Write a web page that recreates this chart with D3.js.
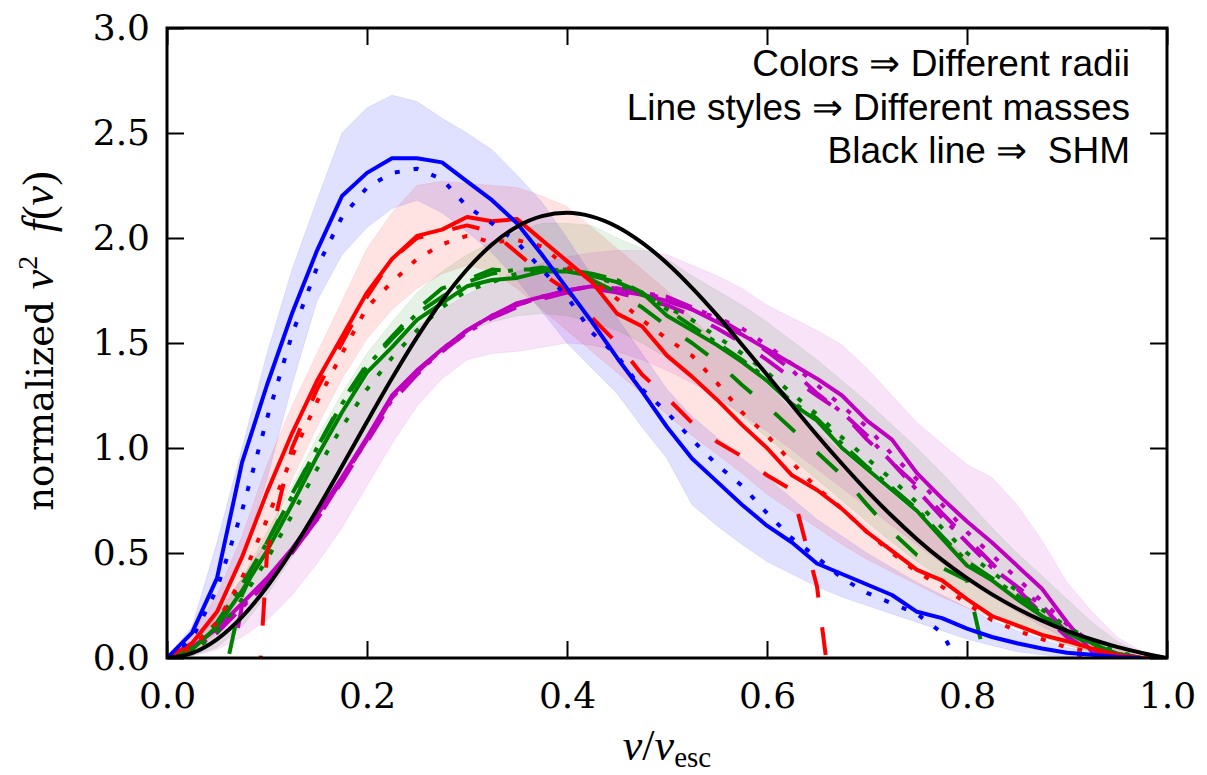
<!DOCTYPE html>
<html>
<head>
<meta charset="utf-8">
<script src="https://cdnjs.cloudflare.com/ajax/libs/d3/7.8.5/d3.min.js"></script>
<style>
  body { margin: 0; background: #fff; }
</style>
</head>
<body>
<div id="chart"></div>
<script>
// speed grid (v / v_esc) shared by every curve and band
var vGrid = [0, 0.025, 0.05, 0.075, 0.1, 0.125, 0.15, 0.175, 0.2, 0.225, 0.25, 0.275, 0.3, 0.325, 0.35, 0.375,
    0.4, 0.425, 0.45, 0.475, 0.5, 0.525, 0.55, 0.575, 0.6, 0.625, 0.65, 0.675, 0.7, 0.725, 0.75, 0.775,
    0.8, 0.825, 0.85, 0.875, 0.9, 0.925, 0.95, 0.975, 1.0];

// blue
var blueSolid = [0, 0.12, 0.38, 0.93, 1.3, 1.64, 1.94, 2.2, 2.31, 2.38, 2.38, 2.36, 2.27, 2.18, 2.07, 1.92,
    1.76, 1.6, 1.43, 1.27, 1.1, 0.95, 0.84, 0.73, 0.63, 0.55, 0.45, 0.40, 0.35, 0.30, 0.22, 0.19,
    0.14, 0.1, 0.07, 0.045, 0.025, 0.015, 0.005, 0, null];
var blueDotted = [0, 0.09, 0.33, 0.7, 1.14, 1.54, 1.86, 2.1, 2.24, 2.31, 2.33, 2.28, 2.15, 2.07, 1.98, 1.85,
    1.72, 1.55, 1.44, 1.28, 1.17, 1.04, 0.92, 0.82, 0.69, 0.57, 0.48, 0.38, 0.31, 0.26, 0.21, 0.12,
    -0.1, null, null, null, null, null, null, null, null];
var blueLo = [0, 0.05, 0.2, 0.48, 0.85, 1.3, 1.7, 1.92, 2.05, 2.14, 2.18, 2.12, 2.03, 1.93, 1.8, 1.65,
    1.5, 1.38, 1.26, 1.1, 0.95, 0.73, 0.63, 0.54, 0.46, 0.4, 0.34, 0.29, 0.25, 0.21, 0.17, 0.13,
    0.09, 0.06, 0.03, 0.015, 0.005, 0, 0, 0, 0];
var blueHi = [0, 0.15, 0.55, 1.0, 1.45, 1.85, 2.18, 2.5, 2.62, 2.68, 2.65, 2.57, 2.5, 2.42, 2.3, 2.17,
    2.0, 1.82, 1.62, 1.45, 1.28, 1.15, 1.05, 0.95, 0.86, 0.76, 0.66, 0.58, 0.5, 0.43, 0.36, 0.3,
    0.24, 0.18, 0.13, 0.09, 0.05, 0.03, 0.01, 0, 0];

// red
var redSolid = [0, 0.07, 0.22, 0.48, 0.79, 1.07, 1.32, 1.53, 1.74, 1.9, 2.01, 2.04, 2.1, 2.08, 2.09, 1.99,
    1.89, 1.79, 1.64, 1.58, 1.44, 1.34, 1.23, 1.11, 1.0, 0.87, 0.8, 0.71, 0.6, 0.51, 0.42, 0.37,
    0.28, 0.2, 0.155, 0.11, 0.08, 0.045, 0.015, 0, 0];
var redDotted = [0, 0.05, 0.17, 0.38, 0.66, 0.96, 1.22, 1.45, 1.67, 1.79, 1.9, 1.97, 2.01, 1.98, 1.99, 1.96,
    1.86, 1.8, 1.71, 1.61, 1.52, 1.44, 1.31, 1.17, 1.06, 0.93, 0.81, 0.71, 0.6, 0.5, 0.41, 0.34,
    0.26, 0.18, 0.13, 0.09, 0.05, 0.03, 0.01, 0, 0];
var redDashed = [null, null, null, -1.5, 0.5, 1.0, 1.28, 1.5, 1.72, 1.9, 2.0, 2.03, 2.06, 2.03, 1.93, 1.83,
    1.75, 1.62, 1.5, 1.35, 1.24, 1.12, 1.03, 0.96, 0.87, 0.8, 0.34, -0.6, null, null, null, null,
    null, null, null, null, null, null, null, null, null];
var redLo = [0, 0.02, 0.12, 0.3, 0.55, 0.85, 1.1, 1.33, 1.52, 1.66, 1.76, 1.83, 1.87, 1.84, 1.76, 1.66,
    1.56, 1.46, 1.36, 1.26, 1.16, 1.06, 0.97, 0.88, 0.78, 0.7, 0.62, 0.54, 0.47, 0.41, 0.35, 0.29,
    0.24, 0.19, 0.14, 0.1, 0.06, 0.03, 0.01, 0, 0];
var redHi = [0, 0.12, 0.3, 0.58, 0.92, 1.2, 1.45, 1.7, 1.95, 2.12, 2.25, 2.27, 2.26, 2.25, 2.24, 2.2,
    2.15, 2.05, 1.95, 1.85, 1.75, 1.62, 1.5, 1.4, 1.3, 1.18, 1.08, 0.98, 0.88, 0.78, 0.68, 0.58,
    0.48, 0.38, 0.3, 0.22, 0.15, 0.09, 0.04, 0.01, 0];

// green
var greenSolid = [0, 0.04, 0.15, 0.32, 0.51, 0.73, 0.96, 1.17, 1.36, 1.48, 1.61, 1.69, 1.77, 1.8, 1.81, 1.84,
    1.84, 1.82, 1.79, 1.74, 1.63, 1.56, 1.49, 1.41, 1.32, 1.21, 1.13, 1.0, 0.9, 0.8, 0.7, 0.57,
    0.44, 0.37, 0.28, 0.2, 0.13, 0.07, 0.02, 0, 0];
var greenDotted = [0, 0.03, 0.12, 0.28, 0.47, 0.68, 0.9, 1.1, 1.28, 1.43, 1.56, 1.67, 1.75, 1.79, 1.83, 1.85,
    1.85, 1.82, 1.78, 1.73, 1.67, 1.61, 1.53, 1.45, 1.36, 1.26, 1.16, 1.05, 0.95, 0.85, 0.74, 0.62,
    0.5, 0.41, 0.32, 0.23, 0.15, 0.08, 0.03, 0, 0];
var greenDashed = [null, null, -0.25, 0.3, 0.55, 0.78, 1.0, 1.22, 1.4, 1.53, 1.66, 1.76, 1.8, 1.85, 1.84, 1.86,
    1.84, 1.8, 1.74, 1.67, 1.58, 1.5, 1.41, 1.3, 1.2, 1.09, 0.98, 0.87, 0.73, 0.6, 0.49, 0.43,
    0.37, -0.15, null, null, null, null, null, null, null];
var greenDashDot = [0, 0.05, 0.17, 0.35, 0.55, 0.77, 1.0, 1.21, 1.39, 1.52, 1.64, 1.72, 1.79, 1.83, 1.85, 1.85,
    1.85, 1.83, 1.8, 1.74, 1.66, 1.58, 1.5, 1.42, 1.33, 1.22, 1.14, 1.02, 0.91, 0.81, 0.71, 0.58,
    0.46, 0.38, 0.3, 0.21, 0.12, 0.06, 0.02, 0, 0];
var greenLo = [0, 0.01, 0.05, 0.15, 0.3, 0.48, 0.68, 0.88, 1.07, 1.23, 1.36, 1.47, 1.55, 1.6, 1.63, 1.64,
    1.63, 1.6, 1.56, 1.5, 1.43, 1.34, 1.25, 1.15, 1.05, 0.95, 0.85, 0.75, 0.65, 0.55, 0.46, 0.38,
    0.3, 0.22, 0.16, 0.1, 0.06, 0.03, 0.01, 0, 0];
var greenHi = [0, 0.06, 0.2, 0.38, 0.6, 0.82, 1.05, 1.26, 1.45, 1.6, 1.74, 1.84, 1.92, 1.98, 2.03, 2.07,
    2.07, 2.06, 2.0, 1.95, 1.9, 1.82, 1.75, 1.68, 1.6, 1.51, 1.42, 1.32, 1.22, 1.11, 1.0, 0.88,
    0.75, 0.62, 0.5, 0.39, 0.28, 0.17, 0.08, 0.02, 0];

// magenta
var magSolid = [0, 0.05, 0.14, 0.26, 0.38, 0.52, 0.68, 0.86, 1.05, 1.25, 1.37, 1.47, 1.56, 1.63, 1.69, 1.72,
    1.75, 1.77, 1.75, 1.73, 1.7, 1.66, 1.6, 1.54, 1.47, 1.4, 1.33, 1.25, 1.13, 1.04, 0.88, 0.76,
    0.65, 0.55, 0.44, 0.33, 0.17, 0.03, 0.005, 0, 0];
var magDotted = [0, 0.04, 0.13, 0.25, 0.37, 0.51, 0.67, 0.85, 1.04, 1.23, 1.36, 1.46, 1.55, 1.62, 1.68, 1.72,
    1.75, 1.77, 1.76, 1.74, 1.71, 1.66, 1.62, 1.57, 1.49, 1.4, 1.3, 1.2, 1.1, 0.97, 0.85, 0.73,
    0.6, 0.49, 0.38, 0.27, 0.16, 0.07, 0.02, 0, 0];
var magDashed = [null, null, -0.4, 0.25, 0.37, 0.5, 0.66, 0.84, 1.03, 1.22, 1.35, 1.46, 1.55, 1.62, 1.67, 1.71,
    1.74, 1.76, 1.74, 1.71, 1.68, 1.63, 1.57, 1.5, 1.42, 1.33, 1.25, 1.17, 1.04, 0.93, 0.82, 0.69,
    0.57, 0.45, 0.33, 0.21, 0.1, 0.03, 0, null, null];
var magDashDot = [0, 0.04, 0.12, 0.24, 0.36, 0.5, 0.66, 0.85, 1.04, 1.24, 1.36, 1.47, 1.56, 1.63, 1.68, 1.72,
    1.75, 1.77, 1.76, 1.74, 1.72, 1.67, 1.62, 1.55, 1.46, 1.37, 1.26, 1.17, 1.06, 0.93, 0.8, 0.67,
    0.55, 0.43, 0.34, 0.25, 0.12, -0.1, null, null, null];
var magLo = [0, 0.01, 0.04, 0.1, 0.18, 0.3, 0.45, 0.62, 0.82, 1.02, 1.2, 1.33, 1.42, 1.45, 1.46, 1.48,
    1.5, 1.49, 1.46, 1.42, 1.37, 1.31, 1.24, 1.16, 1.08, 0.99, 0.9, 0.81, 0.72, 0.63, 0.54, 0.45,
    0.37, 0.29, 0.22, 0.15, 0.09, 0.05, 0.02, 0.005, 0];
var magHi = [0, 0.08, 0.22, 0.38, 0.56, 0.75, 0.95, 1.15, 1.33, 1.48, 1.58, 1.66, 1.73, 1.79, 1.84, 1.88,
    1.91, 1.93, 1.94, 1.94, 1.92, 1.87, 1.82, 1.76, 1.68, 1.62, 1.56, 1.49, 1.38, 1.25, 1.12, 1.02,
    0.92, 0.86, 0.73, 0.56, 0.36, 0.22, 0.1, 0.03, 0];

// standard halo model
var shm = [0, 0.023, 0.089, 0.196, 0.339, 0.512, 0.706, 0.913, 1.125, 1.332, 1.527, 1.701, 1.850, 1.969, 2.054, 2.104,
    2.120, 2.102, 2.054, 1.978, 1.880, 1.763, 1.633, 1.492, 1.349, 1.204, 1.061, 0.925, 0.796, 0.676, 0.566, 0.467,
    0.380, 0.303, 0.236, 0.178, 0.129, 0.088, 0.053, 0.024, 0];

var xTicks = [0, 0.2, 0.4, 0.6, 0.8, 1.0];
var yTicks = [0, 0.5, 1.0, 1.5, 2.0, 2.5, 3.0];
var notes = ["Colors \u21D2 Different radii", "Line styles \u21D2 Different masses", "Black line \u21D2  SHM"];

// svg size and margins
var svgWidth = 1207;
var svgHeight = 775;
var margin = { top: 28, right: 40, bottom: 117, left: 167 };
var width = svgWidth - margin.left - margin.right;
var height = svgHeight - margin.top - margin.bottom;

var svg = d3.select("#chart")
    .append("svg")
    .attr("width", svgWidth)
    .attr("height", svgHeight);

var chart = svg.append("g")
    .attr("transform", `translate(${margin.left}, ${margin.top})`);

var xScale = d3.scaleLinear().domain([0, 1]).range([0, width]);
var yScale = d3.scaleLinear().domain([0, 3]).range([height, 0]);

chart.append("clipPath").attr("id", "plotclip")
    .append("rect").attr("width", width).attr("height", height);

var colors = { blue: "#0000ff", red: "#ff0000", green: "#008000", mag: "#bf00bf" };
var dashes = { solid: null, dotted: "5,14", dashed: "28,30", dashdot: "28,11,5,11" };

// shaded bands
var bands = [
    { lo: blueLo, hi: blueHi, color: colors.blue, op: 0.12 },
    { lo: redLo, hi: redHi, color: colors.red, op: 0.11 },
    { lo: greenLo, hi: greenHi, color: colors.green, op: 0.1 },
    { lo: magLo, hi: magHi, color: colors.mag, op: 0.11 }
];

var area = d3.area()
    .x(d => xScale(d.v))
    .y0(d => yScale(d.lo))
    .y1(d => yScale(d.hi));

var edge = d3.line()
    .x(d => xScale(d[0]))
    .y(d => yScale(d[1]));

var plot = chart.append("g").attr("clip-path", "url(#plotclip)");

bands.forEach(function (b) {
    var rows = vGrid.map((v, i) => ({ v: v, lo: b.lo[i], hi: b.hi[i] }));
    plot.append("path")
        .datum(rows)
        .attr("d", area)
        .attr("fill", b.color)
        .attr("fill-opacity", b.op)
        .attr("stroke", "none");
    [b.lo, b.hi].forEach(function (arr) {
        plot.append("path")
            .datum(vGrid.map((v, i) => [v, arr[i]]))
            .attr("d", edge)
            .attr("fill", "none")
            .attr("stroke", b.color)
            .attr("stroke-opacity", 0.08)
            .attr("stroke-width", 1);
    });
});

// curves
var curves = [
    { vals: magSolid, color: colors.mag, dash: dashes.solid },
    { vals: magDotted, color: colors.mag, dash: dashes.dotted },
    { vals: magDashed, color: colors.mag, dash: dashes.dashed },
    { vals: magDashDot, color: colors.mag, dash: dashes.dashdot },
    { vals: greenSolid, color: colors.green, dash: dashes.solid },
    { vals: greenDotted, color: colors.green, dash: dashes.dotted },
    { vals: greenDashed, color: colors.green, dash: dashes.dashed },
    { vals: greenDashDot, color: colors.green, dash: dashes.dashdot },
    { vals: redSolid, color: colors.red, dash: dashes.solid },
    { vals: redDotted, color: colors.red, dash: dashes.dotted },
    { vals: redDashed, color: colors.red, dash: dashes.dashed },
    { vals: blueSolid, color: colors.blue, dash: dashes.solid },
    { vals: blueDotted, color: colors.blue, dash: dashes.dotted }
];

var line = d3.line()
    .defined(d => d[1] !== null)
    .x(d => xScale(d[0]))
    .y(d => yScale(d[1]));

curves.forEach(function (c) {
    plot.append("path")
        .datum(vGrid.map((v, i) => [v, c.vals[i]]))
        .attr("d", line)
        .attr("fill", "none")
        .attr("stroke", c.color)
        .attr("stroke-width", 4)
        .attr("stroke-linejoin", "round")
        .attr("stroke-dasharray", c.dash);
});

// SHM line on top
plot.append("path")
    .datum(vGrid.map((v, i) => [v, shm[i]]))
    .attr("d", line.curve(d3.curveMonotoneX))
    .attr("fill", "none")
    .attr("stroke", "black")
    .attr("stroke-width", 4);

// axes, ticks inside on all four sides
var fmt = d3.format(".1f");
var bottomAxis = d3.axisBottom(xScale).tickValues(xTicks).tickFormat(fmt).tickSizeInner(-17).tickSizeOuter(0).tickPadding(24);
var topAxis = d3.axisTop(xScale).tickValues(xTicks).tickFormat("").tickSizeInner(-17).tickSizeOuter(0);
var leftAxis = d3.axisLeft(yScale).tickValues(yTicks).tickFormat(fmt).tickSizeInner(-17).tickSizeOuter(0).tickPadding(17);
var rightAxis = d3.axisRight(yScale).tickValues(yTicks).tickFormat("").tickSizeInner(-17).tickSizeOuter(0);

var axes = [
    chart.append("g").attr("transform", `translate(0, ${height})`).call(bottomAxis),
    chart.append("g").call(topAxis),
    chart.append("g").call(leftAxis),
    chart.append("g").attr("transform", `translate(${width}, 0)`).call(rightAxis)
];
axes.forEach(function (g) {
    g.select(".domain").remove();
    g.selectAll(".tick line").attr("stroke", "black").attr("stroke-width", 2);
    g.selectAll(".tick text")
        .style("font-family", "'DejaVu Serif', serif")
        .style("font-size", "36px")
        .attr("fill", "black");
});

chart.append("rect")
    .attr("width", width)
    .attr("height", height)
    .attr("fill", "none")
    .attr("stroke", "black")
    .attr("stroke-width", 3);

// axis labels
var mathFont = "'Liberation Serif', 'Times New Roman', serif";
var ylab = svg.append("text")
    .attr("transform", "translate(53, 341) rotate(-90)")
    .attr("text-anchor", "middle")
    .style("font-family", "'DejaVu Serif', serif")
    .style("font-size", "37px");
ylab.append("tspan").text("normalized ");
ylab.append("tspan").style("font-family", mathFont).style("font-style", "italic").style("font-size", "44px").text("v");
ylab.append("tspan").attr("dy", -16).style("font-family", mathFont).style("font-size", "28px").text("2");
ylab.append("tspan").attr("dy", 16).style("white-space", "pre").text("  ");
ylab.append("tspan").style("font-family", mathFont).style("font-style", "italic").style("font-size", "44px").text("f");
ylab.append("tspan").style("font-family", mathFont).style("font-size", "44px").text("(");
ylab.append("tspan").style("font-family", mathFont).style("font-style", "italic").style("font-size", "44px").text("v");
ylab.append("tspan").style("font-family", mathFont).style("font-size", "44px").text(")");

var xlab = svg.append("text")
    .attr("x", margin.left + width / 2)
    .attr("y", 760)
    .attr("text-anchor", "middle")
    .style("font-family", mathFont)
    .style("font-size", "44px");
xlab.append("tspan").style("font-style", "italic").text("v");
xlab.append("tspan").text("/");
xlab.append("tspan").style("font-style", "italic").text("v");
xlab.append("tspan").attr("dy", 7).style("font-size", "29px").text("esc");

// notes in upper right
svg.selectAll(".note")
    .data(notes)
    .enter()
    .append("text")
    .attr("class", "note")
    .attr("x", 1130)
    .attr("y", (d, i) => 76 + i * 43.5)
    .attr("text-anchor", "end")
    .style("font-family", "'Liberation Sans', Arial, sans-serif")
    .style("font-size", "37px")
    .style("white-space", "pre")
    .text(d => d);
</script>
</body>
</html>
